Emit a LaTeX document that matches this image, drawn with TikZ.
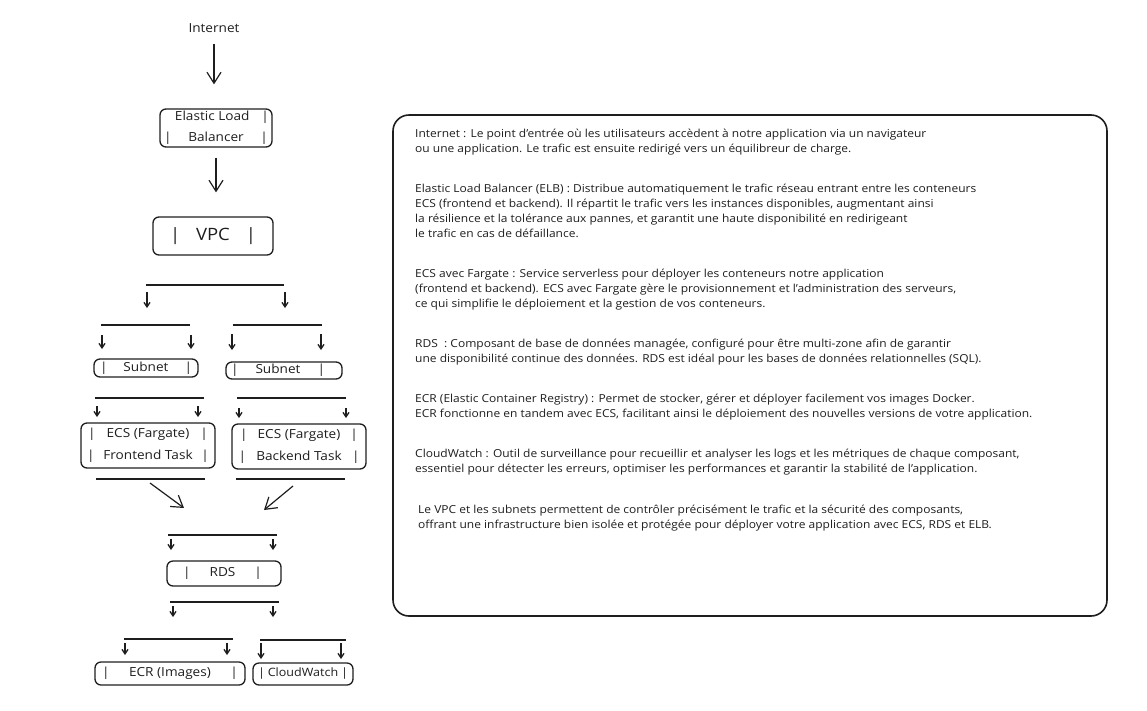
\documentclass[tikz,border=0pt]{standalone}
\usepackage{fontspec}
\newfontfamily\hand[FakeStretch=1.09]{Open Sans}
\usetikzlibrary{arrows.meta}
\definecolor{ink}{RGB}{30, 30, 30}

\begin{document}
\begin{tikzpicture}[
        x=1pt, y=-1pt,
        every node/.style={text=ink, font=\hand\fontsize{11}{15}\selectfont},
        label/.style={font=\hand\fontsize{12.5}{15}\selectfont},
        box/.style={draw=ink, line width=1.3pt, rounded corners=6pt, inner sep=0pt, align=center,
            font=\hand\fontsize{12.5}{15}\selectfont},
        busline/.style={draw=ink, line width=1.8pt},
        bigarrow/.style={draw=ink, line width=1.2pt, -{Straight Barb[length=11pt, width=14pt]}},
        smallarrow/.style={draw=ink, line width=1.3pt, -{Straight Barb[length=4.5pt, width=6pt]}},
        notebox/.style={draw=ink, line width=1.6pt, rounded corners=16pt}
    ]

    \useasboundingbox (0,0) rectangle (1147,710);

    \node[label] (inet) at (214,28) {Internet};
    \node[box, minimum width=112pt, minimum height=38pt] (elb) at (216,128)
        {\makebox[106pt]{\hfill Elastic Load\hfill|}\\[6pt]\makebox[104pt]{|\hfill Balancer\hfill|}};
    \node[box, minimum width=120pt, minimum height=38pt, font=\hand\fontsize{17}{20}\selectfont] (vpc) at (213,236)
        {\makebox[86pt]{|\hfill VPC\hfill|}};

    \draw[bigarrow, shorten <=8pt, shorten >=24pt] (inet.south) -- (inet.south |- elb.north);
    \draw[bigarrow, shorten <=10pt, shorten >=24pt] (elb.south) -- (elb.south |- vpc.north);

    \coordinate (b1) at (146,285);
    \draw[busline] (b1) -- ++(138,0);
    \draw[smallarrow] (b1) ++(1,7) -- ++(0,16);
    \draw[smallarrow] (b1) ++(139,7) -- ++(0,16);

    \coordinate (b2l) at (101,325);
    \coordinate (b2r) at (233,325);
    \draw[busline] (b2l) -- ++(89,0);
    \draw[busline] (b2r) -- ++(89,0);
    \draw[smallarrow] (b2l) ++(1,10) -- ++(0,14);
    \draw[smallarrow] (b2l) ++(90,10) -- ++(0,14);
    \draw[smallarrow] (b2r) ++(-1,9) -- ++(0,16);
    \draw[smallarrow] (b2r) ++(88,9) -- ++(0,16);

    \node[box, minimum width=104pt, minimum height=18pt] (subl) at (146,368)
        {\makebox[92pt]{|\hfill Subnet\hfill|}};
    \node[box, minimum width=116pt, minimum height=17pt] (subr) at (284,370.5)
        {\makebox[94pt]{|\hfill Subnet\hfill|}\hspace{12pt}};

    \coordinate (b3l) at (95,398);
    \coordinate (b3r) at (237,398);
    \draw[busline] (b3l) -- ++(109,0);
    \draw[busline] (b3r) -- ++(109,0);
    \draw[smallarrow] (b3l) ++(2,8) -- ++(0,11);
    \draw[smallarrow] (b3l) ++(103,8) -- ++(0,11);
    \draw[smallarrow] (b3r) ++(2,10) -- ++(0,10);
    \draw[smallarrow] (b3r) ++(109,10) -- ++(0,10);

    \node[box, minimum width=134pt, minimum height=45pt] (ecsf) at (148,445.5)
        {\makebox[120pt]{|\hfill ECS (Fargate)\hfill|}\\[7pt]\makebox[122pt]{|\hfill Frontend Task\hfill|}};
    \node[box, minimum width=134pt, minimum height=45pt] (ecsb) at (299,446.5)
        {\makebox[118pt]{|\hfill ECS (Fargate)\hfill|}\\[7pt]\makebox[121pt]{|\hfill Backend Task\hfill|}};

    \coordinate (b4l) at (96,479);
    \coordinate (b4r) at (236,479);
    \draw[busline] (b4l) -- ++(109,0);
    \draw[busline] (b4r) -- ++(109,0);
    \draw[bigarrow] (b4l) ++(54,4) -- ++(34,25);
    \draw[bigarrow] (b4r) ++(57,7) -- ++(-29,24);

    \coordinate (b5) at (168,535);
    \draw[busline] (b5) -- ++(109,0);
    \draw[smallarrow] (b5) ++(3,4) -- ++(0,11);
    \draw[smallarrow] (b5) ++(105,4) -- ++(0,11);

    \node[box, minimum width=114pt, minimum height=25pt] (rds) at (224,573.5)
        {\makebox[79pt]{|\hfill RDS\hfill|}\hspace{3pt}};

    \coordinate (b6) at (170,602);
    \draw[busline] (b6) -- ++(109,0);
    \draw[smallarrow] (b6) ++(3,4) -- ++(0,11);
    \draw[smallarrow] (b6) ++(103,4) -- ++(0,11);

    \coordinate (b7l) at (124,639);
    \coordinate (b7r) at (260,640);
    \draw[busline] (b7l) -- ++(109,0);
    \draw[busline] (b7r) -- ++(86,0);
    \draw[smallarrow] (b7l) ++(1,4) -- ++(0,12);
    \draw[smallarrow] (b7l) ++(103,4) -- ++(0,12);
    \draw[smallarrow] (b7r) ++(1,3) -- ++(0,16);
    \draw[smallarrow] (b7r) ++(81,3) -- ++(0,16);

    \node[box, minimum width=150pt, minimum height=23pt] (ecr) at (170,673.5)
        {\makebox[136pt]{|\hfill ECR (Images)\hfill|}};
    \node[box, minimum width=100pt, minimum height=22pt, font=\hand\fontsize{11.5}{15}\selectfont] (cw) at (303,674)
        {\makebox[90pt]{|\hfill CloudWatch\hfill|}};

    \draw[notebox] (393,115) rectangle (1107,616);
    \node[anchor=north west, align=left, inner sep=0pt] (notes) at (415,128.5)
        {Internet : Le point d’entrée où les utilisateurs accèdent à notre application via un navigateur\\
        ou une application. Le trafic est ensuite redirigé vers un équilibreur de charge.\\[25pt]
        Elastic Load Balancer (ELB) : Distribue automatiquement le trafic réseau entrant entre les conteneurs\\
        ECS (frontend et backend). Il répartit le trafic vers les instances disponibles, augmentant ainsi\\
        la résilience et la tolérance aux pannes, et garantit une haute disponibilité en redirigeant\\
        le trafic en cas de défaillance.\\[25pt]
        ECS avec Fargate : Service serverless pour déployer les conteneurs notre application\\
        (frontend et backend). ECS avec Fargate gère le provisionnement et l’administration des serveurs,\\
        ce qui simplifie le déploiement et la gestion de vos conteneurs.\\[25pt]
        RDS\ \ : Composant de base de données managée, configuré pour être multi-zone afin de garantir\\
        une disponibilité continue des données. RDS est idéal pour les bases de données relationnelles (SQL).\\[25pt]
        ECR (Elastic Container Registry) : Permet de stocker, gérer et déployer facilement vos images Docker.\\
        ECR fonctionne en tandem avec ECS, facilitant ainsi le déploiement des nouvelles versions de votre application.\\[25pt]
        CloudWatch : Outil de surveillance pour recueillir et analyser les logs et les métriques de chaque composant,\\
        essentiel pour détecter les erreurs, optimiser les performances et garantir la stabilité de l’application.\\[26pt]
        \hspace{3pt}Le VPC et les subnets permettent de contrôler précisément le trafic et la sécurité des composants,\\
        \hspace{3pt}offrant une infrastructure bien isolée et protégée pour déployer votre application avec ECS, RDS et ELB.};
\end{tikzpicture}
\end{document}
